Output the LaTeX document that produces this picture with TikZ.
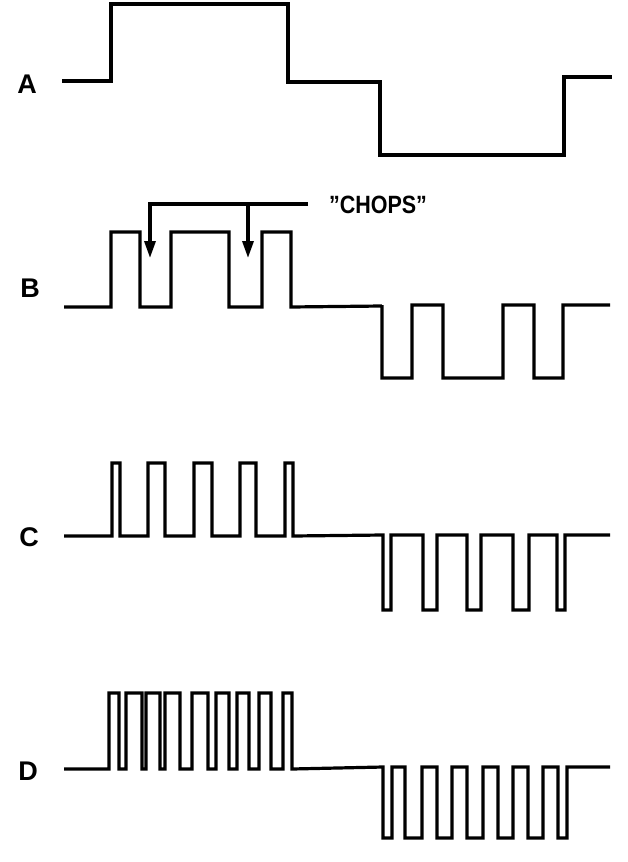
\documentclass[tikz,border=0pt]{standalone}
\usepackage{fontspec}
\setmainfont{Liberation Sans}
\usetikzlibrary{arrows.meta}
\begin{document}
\begin{tikzpicture}[x=1pt,y=-1pt,
  wave/.style={line width=3.2pt,line join=miter},
  lbl/.style={font=\fontsize{27}{30}\selectfont\bfseries,inner sep=0pt},
  chopsarrow/.style={line width=3.2pt,-{Triangle[width=11pt,length=17pt]}}]
\useasboundingbox (0,0) rectangle (628,862);
% labels
\node[lbl] (la) at (27,84) {A};
\node[lbl] (lb) at (30,288) {B};
\node[lbl] (lc) at (29,537) {C};
\node[lbl] (ld) at (28,771) {D};
\node[inner sep=0pt,font=\fontsize{25}{28}\selectfont\bfseries] (chops) at (378,205) {\scalebox{0.86}[1]{''CHOPS''}};
% A
\draw[wave] (62,81) -- (111,81) -- (111,4) -- (288,4) -- (288,82) -- (380,82)
  -- (380,155) -- (564,155) -- (564,77) -- (612,77);
% B
\draw[wave] (64,307)
  foreach \a/\b in {111/140,171/229,262/291} { -- (\a,307) -- (\a,232) -- (\b,232) -- (\b,307) }
  -- (382,306)
  foreach \a/\b in {382/412,443/503,534/563} { -- (\a,305) -- (\a,378) -- (\b,378) -- (\b,305) }
  -- (610,305);
% chops arrows
\coordinate (c0) at (308,204);
\coordinate (c1) at (150,204);
\coordinate (c2) at (248,204);
\coordinate (t1) at (150,258);
\coordinate (t2) at (248,258);
\draw[chopsarrow] (c0) -- (c1) -- (t1);
\draw[chopsarrow] (c2) -- (t2);
% C
\draw[wave] (64,536)
  foreach \a/\b in {112/120,148/165,194/212,240/256,285/293} { -- (\a,536) -- (\a,463) -- (\b,463) -- (\b,536) }
  -- (383,535)
  foreach \a/\b in {383/391,423/437,467/481,513/529,557/565} { -- (\a,535) -- (\a,610) -- (\b,610) -- (\b,535) }
  -- (610,535);
% D
\draw[wave] (64,769)
  foreach \a/\b in {109/119,126/142,146/160,165/180,192/208,216/229,237/249,259/271,283/292} { -- (\a,769) -- (\a,693) -- (\b,693) -- (\b,769) }
  -- (383,767)
  foreach \a/\b in {383/392,405/422,437/452,467/483,498/513,528/543,558/567} { -- (\a,767) -- (\a,838) -- (\b,838) -- (\b,767) }
  -- (610,767);
\end{tikzpicture}
\end{document}
